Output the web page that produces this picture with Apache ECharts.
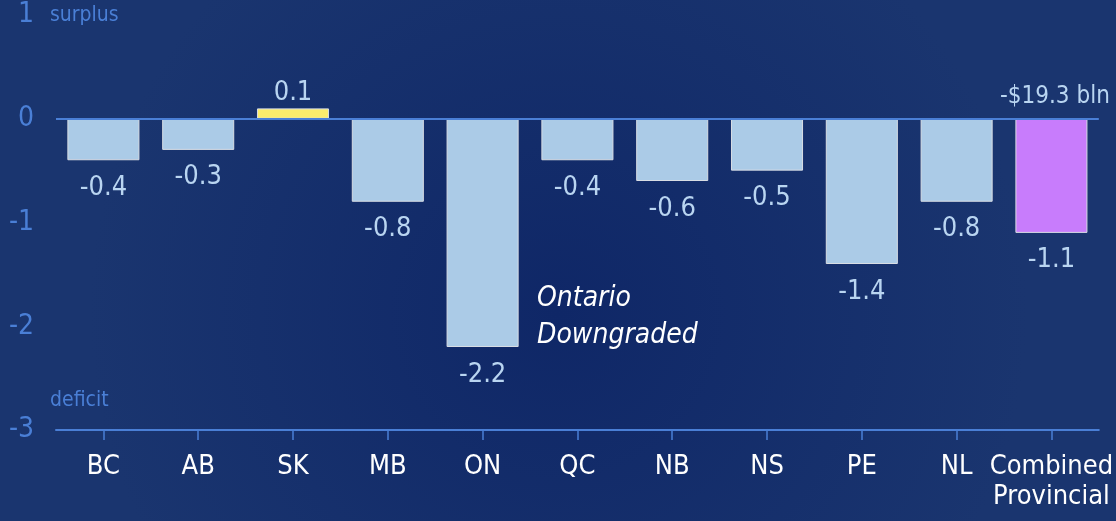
<!DOCTYPE html>
<html>
<head>
<meta charset="utf-8">
<script src="https://cdn.jsdelivr.net/npm/echarts@6/dist/echarts.min.js"></script>
<style>
  html, body { margin: 0; padding: 0; }
  #chart { width: 1116px; height: 521px; }
</style>
</head>
<body>
<div id="chart"></div>
<script>
var provinces = ['BC', 'AB', 'SK', 'MB', 'ON', 'QC', 'NB', 'NS', 'PE', 'NL', 'Combined\nProvincial'];
var balances = [-0.4, -0.3, 0.1, -0.8, -2.2, -0.4, -0.6, -0.5, -1.4, -0.8, -1.1];
var yTicks = [1, 0, -1, -2, -3];

var font = '"Liberation Sans Narrow", "DejaVu Sans Condensed", sans-serif';
var axisBlue = '#4a7fd6';

var barData = balances.map(function (v, i) {
    var color = '#abcbe7';
    if (v > 0) color = '#fbec6c';
    if (i === provinces.length - 1) color = '#c87cfc';
    return {
        value: v,
        itemStyle: { color: color },
        label: {
            position: v > 0 ? 'top' : 'bottom',
            distance: v > 0 ? 2 : 14
        }
    };
});

var chart = echarts.init(document.getElementById('chart'));
chart.setOption({
    backgroundColor: {
        type: 'radial', x: 0.5, y: 0.6, r: 0.9,
        colorStops: [
            { offset: 0, color: '#0f2767' },
            { offset: 1, color: '#1a356f' }
        ]
    },
    textStyle: { fontFamily: font },
    grid: { top: 15, bottom: 91, left: 56, right: 14 },
    xAxis: {
        type: 'category',
        data: provinces,
        axisLine: { onZero: false, lineStyle: { color: axisBlue, width: 2 } },
        axisTick: { show: true, alignWithLabel: true, length: 10, lineStyle: { color: axisBlue, width: 1.5 } },
        axisLabel: {
            color: '#ffffff', fontSize: 27, margin: 22, lineHeight: 30,
            fontFamily: font, interval: 0
        }
    },
    yAxis: {
        type: 'value',
        min: -3, max: 1, interval: 1,
        splitLine: { show: false },
        axisLine: { show: false },
        axisTick: { show: false },
        axisLabel: {
            color: axisBlue, fontSize: 28, margin: 22, fontFamily: font,
            formatter: function (v) { return yTicks.indexOf(v) >= 0 ? String(v) : ''; }
        }
    },
    series: [{
        type: 'bar',
        data: barData,
        barWidth: '76%',
        itemStyle: { borderColor: '#d8dde4', borderWidth: 1 },
        label: {
            show: true,
            color: '#b9d5f1',
            fontSize: 27,
            fontFamily: font,
            formatter: function (p) { return p.value.toFixed(1); }
        },
        markLine: {
            silent: true,
            symbol: 'none',
            label: { show: false },
            lineStyle: { color: axisBlue, width: 2, type: 'solid' },
            data: [{ yAxis: 0 }]
        },
        z: 3
    }],
    graphic: [
        { type: 'text', left: 50, top: 5, style: { text: 'surplus', fill: axisBlue, font: '21px ' + font } },
        { type: 'text', left: 50, top: 390, style: { text: 'deficit', fill: axisBlue, font: '21px ' + font } },
        { type: 'text', left: 1000, top: 85, style: { text: '-$19.3 bln', fill: '#b9d5f1', font: '24px ' + font } },
        {
            type: 'text', left: 537, top: 280,
            style: {
                text: 'Ontario\nDowngraded', fill: '#ffffff', align: 'center',
                font: 'italic 28px ' + font, lineHeight: 37
            }
        }
    ]
});
</script>
</body>
</html>
